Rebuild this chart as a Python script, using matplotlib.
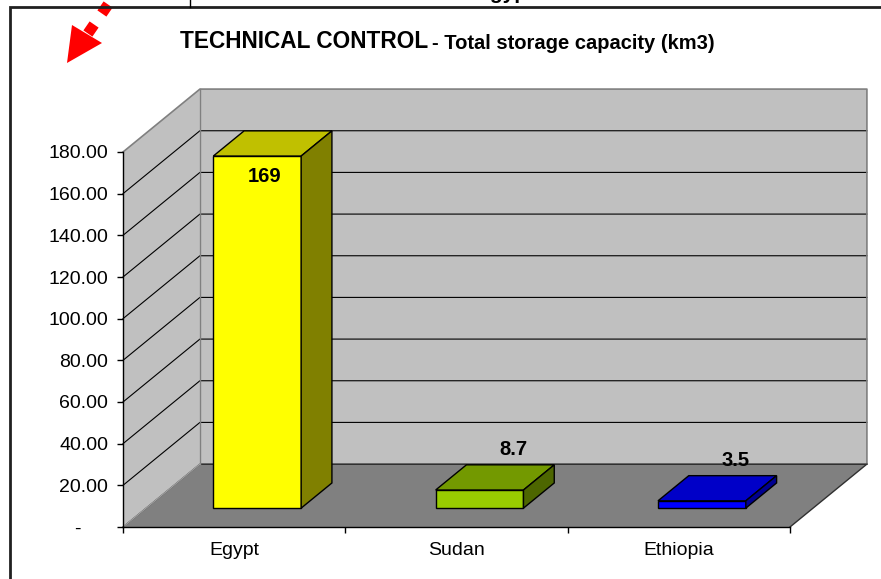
"""Excel-style 3D column chart: total storage capacity (km3)."""

import matplotlib

matplotlib.use("Agg")

import matplotlib.pyplot as plt
from matplotlib.lines import Line2D
from matplotlib.patches import Polygon
from matplotlib.ticker import FixedLocator

# data
countries = ["Egypt", "Sudan", "Ethiopia"]
capacity_km3 = [169.0, 8.7, 3.5]
y_ticks = [0, 20, 40, 60, 80, 100, 120, 140, 160, 180]

# colours (front, top, side) per bar
FRONT = ["#FFFF00", "#99CC00", "#0000FF"]
TOP = ["#C0C000", "#739900", "#0000C8"]
SIDE = ["#808000", "#4D6600", "#000090"]
WALL = "#C0C0C0"
FLOOR = "#808080"
EDGE = "#808080"

# oblique depth of the plot box, in data units
DX = 0.346
DY = 30.2
D1, D2 = 0.30, 0.70  # bar depth span (fraction of the box depth)
BAR_W = 0.395

plt.rcParams["font.family"] = ["Liberation Sans", "DejaVu Sans"]

fig = plt.figure(figsize=(8.81, 5.79), dpi=100)
ax = fig.add_axes([123 / 881, 52 / 579, 667 / 881, 375 / 579])
ax.set_xlim(0, len(countries))
ax.set_ylim(0, 180)
ax.patch.set_visible(False)

n = len(countries)
ymax = y_ticks[-1]

# walls and floor
ax.add_patch(Polygon([(0, 0), (DX, DY), (n + DX, DY), (n, 0)],
                     closed=True, facecolor=FLOOR, edgecolor="none",
                     clip_on=False, zorder=0.5))
ax.add_patch(Polygon([(0, 0), (0, ymax), (DX, ymax + DY), (DX, DY)],
                     closed=True, facecolor=WALL, edgecolor="none",
                     clip_on=False, zorder=0.5))
ax.add_patch(Polygon([(DX, DY), (DX, ymax + DY), (n + DX, ymax + DY),
                      (n + DX, DY)],
                     closed=True, facecolor=WALL, edgecolor="none",
                     clip_on=False, zorder=0.5))

# grid lines on side wall and back wall
for v in y_ticks[:-1]:
    ax.plot([0, DX, n + DX], [v, v + DY, v + DY], color="black",
            linewidth=0.8, clip_on=False, zorder=1)
# wall edges
ax.plot([0, DX, n + DX, n + DX], [ymax, ymax + DY, ymax + DY, DY],
        color=EDGE, linewidth=1.2, clip_on=False, zorder=1)
ax.plot([DX, DX], [DY, ymax + DY], color=EDGE, linewidth=1.0,
        clip_on=False, zorder=1)
ax.plot([0, DX], [0, DY], color="#A0A0A0", linewidth=1.0,
        clip_on=False, zorder=1.1)
ax.plot([n, n + DX], [0, DY], color="#303030", linewidth=1.0,
        clip_on=False, zorder=1.1)

# bars
for i, value in enumerate(capacity_km3):
    left = i + 0.5 - BAR_W / 2 + D1 * DX
    right = left + BAR_W
    base = D1 * DY
    top = base + value
    sx = (D2 - D1) * DX
    sy = (D2 - D1) * DY
    kw = dict(closed=True, edgecolor="black", linewidth=1.0,
              clip_on=False, zorder=3)
    ax.add_patch(Polygon([(left, base), (right, base), (right, top),
                          (left, top)], facecolor=FRONT[i], **kw))
    ax.add_patch(Polygon([(left, top), (right, top), (right + sx, top + sy),
                          (left + sx, top + sy)], facecolor=TOP[i], **kw))
    ax.add_patch(Polygon([(right, base), (right + sx, base + sy),
                          (right + sx, top + sy), (right, top)],
                         facecolor=SIDE[i], **kw))

    cx = (left + right) / 2 + sx / 2
    cy = top + sy / 2
    if value > 100:
        offset = (-6, -24)
    else:
        offset = (13.5, 20)
    ax.annotate(f"{value:g}", xy=(cx, cy), xytext=offset,
                textcoords="offset points", ha="center", va="center",
                fontsize=14.5, fontweight="bold", color="black", zorder=4,
                annotation_clip=False)

# axes, ticks and labels
for side in ("top", "right"):
    ax.spines[side].set_visible(False)
for side in ("left", "bottom"):
    ax.spines[side].set_color("black")
    ax.spines[side].set_linewidth(1.0)
    ax.spines[side].set_zorder(2)

ax.set_yticks(y_ticks)
ax.set_yticklabels(["-     "] + [f"{v:.2f}" for v in y_ticks[1:]])
ax.tick_params(axis="y", direction="out", length=4.3, width=1.0,
               pad=6.5, labelsize=14, colors="black")

ax.set_xticks([i + 0.5 for i in range(n)])
ax.set_xticklabels(countries)
ax.xaxis.set_minor_locator(FixedLocator(list(range(n + 1))))
ax.tick_params(axis="x", which="major", length=0, pad=11,
               labelsize=14, colors="black")
ax.tick_params(axis="x", which="minor", direction="out", length=4.3,
               width=1.0, color="black")

# overlay in pixel coordinates for frame, title and arrow
over = fig.add_axes([0, 0, 1, 1], zorder=5)
over.set_xlim(0, 881)
over.set_ylim(579, 0)
over.axis("off")
over.patch.set_visible(False)

over.add_line(Line2D([10, 10, 881], [579, 7, 7], color="#202020",
                     linewidth=2.0, solid_joinstyle="miter"))
over.add_line(Line2D([190, 190], [0, 7], color="black", linewidth=1.0))
over.text(506, -1, "Egypt", ha="center", va="baseline", fontsize=15,
          fontweight="bold", color="black", clip_on=False)

t1 = over.text(180, 53, "TECHNICAL CONTROL", ha="left", va="bottom",
               fontsize=16.3, fontweight="bold", color="black")
over.annotate("- Total storage capacity (km3)", xy=(1, 0), xycoords=t1,
              xytext=(2.5, 0), textcoords="offset points", ha="left",
              va="bottom", fontsize=14.5, fontweight="bold", color="black")

red = "#FF0000"
over.add_patch(Polygon([(67, 63), (72, 25), (102, 43)], closed=True,
                       facecolor=red, edgecolor="none"))
over.add_patch(Polygon([(98.6, 27.6), (89.6, 21.4), (83.4, 30.4),
                        (92.4, 36.6)],
                       closed=True, facecolor=red, edgecolor="none"))
over.add_patch(Polygon([(112.6, 7.6), (103.6, 1.4), (97.4, 10.4),
                        (106.4, 16.6)],
                       closed=True, facecolor=red, edgecolor="none"))

fig.savefig("out.png", dpi=100)
